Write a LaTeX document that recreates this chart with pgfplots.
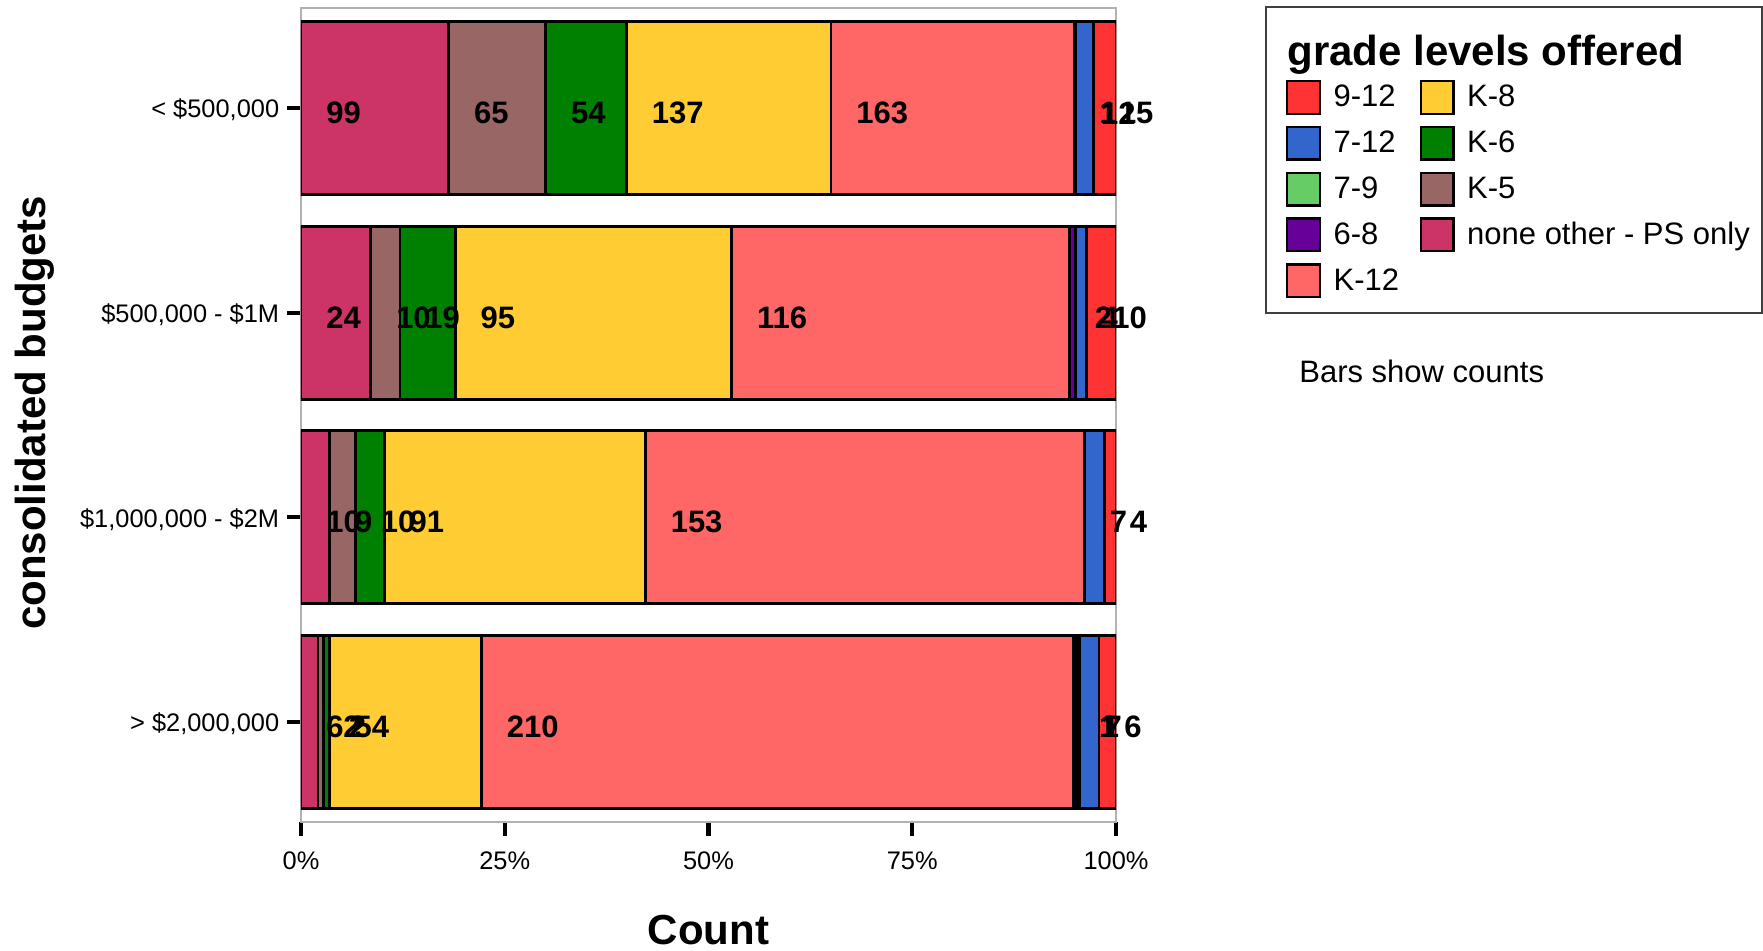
\documentclass[border=0pt]{standalone}
\usepackage{pgfplots}
\usepackage{pgfplotstable}
\pgfplotsset{compat=1.18}
\usepackage{fontspec}
\setmainfont{Liberation Sans}

\definecolor{cnone}{HTML}{CC3366}
\definecolor{ck5}{HTML}{996666}
\definecolor{ck6}{HTML}{008000}
\definecolor{ck8}{HTML}{FFCC33}
\definecolor{ck12}{HTML}{FF6666}
\definecolor{c68}{HTML}{660099}
\definecolor{c79}{HTML}{66CC66}
\definecolor{c712}{HTML}{3366CC}
\definecolor{c912}{HTML}{FF3333}

\pgfplotstableread{
pos none k5 k6 k8 k12 g68 g79 g712 g912
3 99 65 54 137 163 1 0 12 15
2 24 10 19 95 116 2 0 4 10
1 10 9 10 91 153 0 0 7 4
0 6 2 2 54 210 1 1 7 6
}\data
\pgfplotstablecreatecol[expr={\thisrow{none}+\thisrow{k5}+\thisrow{k6}+\thisrow{k8}+\thisrow{k12}+\thisrow{g68}+\thisrow{g79}+\thisrow{g712}+\thisrow{g912}}]{total}\data

\pgfplotsset{
  base/.style={
    at={(150.5pt,64.5pt)}, anchor=south west,
    scale only axis, width=407.5pt, height=407pt,
    xmin=0, xmax=100, ymin=-0.49, ymax=3.49,
  },
  lgd/.style={legend image code/.code={\draw[fill=#1,draw=black,line width=1.2pt] (0pt,-8.15pt) rectangle (16.3pt,8.15pt); \path (23pt,0pt);}},
  lab/.style={only marks, mark=none, forget plot, nodes near coords, point meta=explicit symbolic,
    x filter/.expression={\thisrow{#1}==0 ? nan : x}},
}

\begin{document}
\begin{tikzpicture}
\useasboundingbox (0,0) rectangle (881.5pt,475.5pt);
\begin{axis}[base,
  xbar stacked, bar width=0.847,
  every axis plot/.append style={draw=black, line width=1.4pt},
  axis line style={draw=gray!60, line width=0.6pt},
  xtick={0,25,50,75,100}, xticklabels={0\%,25\%,50\%,75\%,100\%},
  ytick={0,1,2,3},
  yticklabels={{> \$2,000,000},{\$1,000,000 - \$2M},{\$500,000 - \$1M},{< \$500,000}},
  tick align=outside, xtick pos=left, ytick pos=left,
  major tick length=7pt,
  tick style={black, line width=2.2pt},
  xticklabel style={font=\fontsize{12.7}{15}\selectfont, inner sep=0pt, anchor=north, yshift=-7.75pt},
  yticklabel style={font=\fontsize{12.7}{15}\selectfont, inner sep=0pt, anchor=east, xshift=-3.7pt, yshift=-1pt},
  xlabel={Count}, ylabel={consolidated budgets},
  xlabel style={at={(axis description cs:0.5,-0.1327)}, anchor=center, font=\bfseries\fontsize{21}{25}\selectfont},
  ylabel style={at={(axis description cs:-0.3265,0.5025)}, anchor=center, font=\bfseries\fontsize{21}{25}\selectfont},
]
\addplot[fill=cnone] table[x expr=\thisrow{none}/\thisrow{total}*100, y=pos]\data;
\addplot[fill=ck5] table[x expr=\thisrow{k5}/\thisrow{total}*100, y=pos]\data;
\addplot[fill=ck6] table[x expr=\thisrow{k6}/\thisrow{total}*100, y=pos]\data;
\addplot[fill=ck8] table[x expr=\thisrow{k8}/\thisrow{total}*100, y=pos]\data;
\addplot[fill=ck12] table[x expr=\thisrow{k12}/\thisrow{total}*100, y=pos]\data;
\addplot[fill=c68] table[x expr=\thisrow{g68}/\thisrow{total}*100, y=pos]\data;
\addplot[fill=c79] table[x expr=\thisrow{g79}/\thisrow{total}*100, y=pos]\data;
\addplot[fill=c712] table[x expr=\thisrow{g712}/\thisrow{total}*100, y=pos]\data;
\addplot[fill=c912] table[x expr=\thisrow{g912}/\thisrow{total}*100, y=pos]\data;
\end{axis}

\begin{axis}[base, hide axis, clip=false,
  every node near coord/.append style={anchor=west, xshift=12.5pt, yshift=-2.5pt, inner sep=0pt, font=\bfseries\fontsize{15.5}{18}\selectfont, text=black},
  legend columns=2, legend cell align=left,
  legend style={at={(axis description cs:1.2086,0.9114)}, anchor=north west, draw=none, fill=none,
    inner sep=0pt, outer sep=0pt, row sep=5.4pt, column sep=0pt,
    font=\fontsize{15.5}{18}\selectfont, nodes={inner sep=0pt}},
]
\addlegendimage{lgd=c912}\addlegendentry{\makebox[43pt][l]{9-12}}
\addlegendimage{lgd=ck8}\addlegendentry{K-8}
\addlegendimage{lgd=c712}\addlegendentry{\makebox[43pt][l]{7-12}}
\addlegendimage{lgd=ck6}\addlegendentry{K-6}
\addlegendimage{lgd=c79}\addlegendentry{\makebox[43pt][l]{7-9}}
\addlegendimage{lgd=ck5}\addlegendentry{K-5}
\addlegendimage{lgd=c68}\addlegendentry{\makebox[43pt][l]{6-8}}
\addlegendimage{lgd=cnone}\addlegendentry{none other - PS only}
\addlegendimage{lgd=ck12}\addlegendentry{\makebox[43pt][l]{K-12}}

\addplot[lab=none] table[x expr=0, y=pos, meta=none]\data;
\addplot[lab=k5] table[x expr=\thisrow{none}/\thisrow{total}*100, y=pos, meta=k5]\data;
\addplot[lab=k6] table[x expr=(\thisrow{none}+\thisrow{k5})/\thisrow{total}*100, y=pos, meta=k6]\data;
\addplot[lab=k8] table[x expr=(\thisrow{none}+\thisrow{k5}+\thisrow{k6})/\thisrow{total}*100, y=pos, meta=k8]\data;
\addplot[lab=k12] table[x expr=(\thisrow{none}+\thisrow{k5}+\thisrow{k6}+\thisrow{k8})/\thisrow{total}*100, y=pos, meta=k12]\data;
\addplot[lab=g68] table[x expr=(\thisrow{none}+\thisrow{k5}+\thisrow{k6}+\thisrow{k8}+\thisrow{k12})/\thisrow{total}*100, y=pos, meta=g68]\data;
\addplot[lab=g79] table[x expr=(\thisrow{none}+\thisrow{k5}+\thisrow{k6}+\thisrow{k8}+\thisrow{k12}+\thisrow{g68})/\thisrow{total}*100, y=pos, meta=g79]\data;
\addplot[lab=g712] table[x expr=(\thisrow{none}+\thisrow{k5}+\thisrow{k6}+\thisrow{k8}+\thisrow{k12}+\thisrow{g68}+\thisrow{g79})/\thisrow{total}*100, y=pos, meta=g712]\data;
\addplot[lab=g912] table[x expr=(\thisrow{total}-\thisrow{g912})/\thisrow{total}*100, y=pos, meta=g912]\data;
\end{axis}

\draw[draw=black!75, line width=0.75pt] (633pt,319pt) rectangle (881pt,472pt);
\node[anchor=base west, inner sep=0pt, font=\bfseries\fontsize{21}{25}\selectfont] at (643.5pt,442.5pt) {grade levels offered};
\node[anchor=base west, inner sep=0pt, font=\fontsize{15.5}{18}\selectfont] at (649.5pt,284pt) {Bars show counts};
\end{tikzpicture}
\end{document}
